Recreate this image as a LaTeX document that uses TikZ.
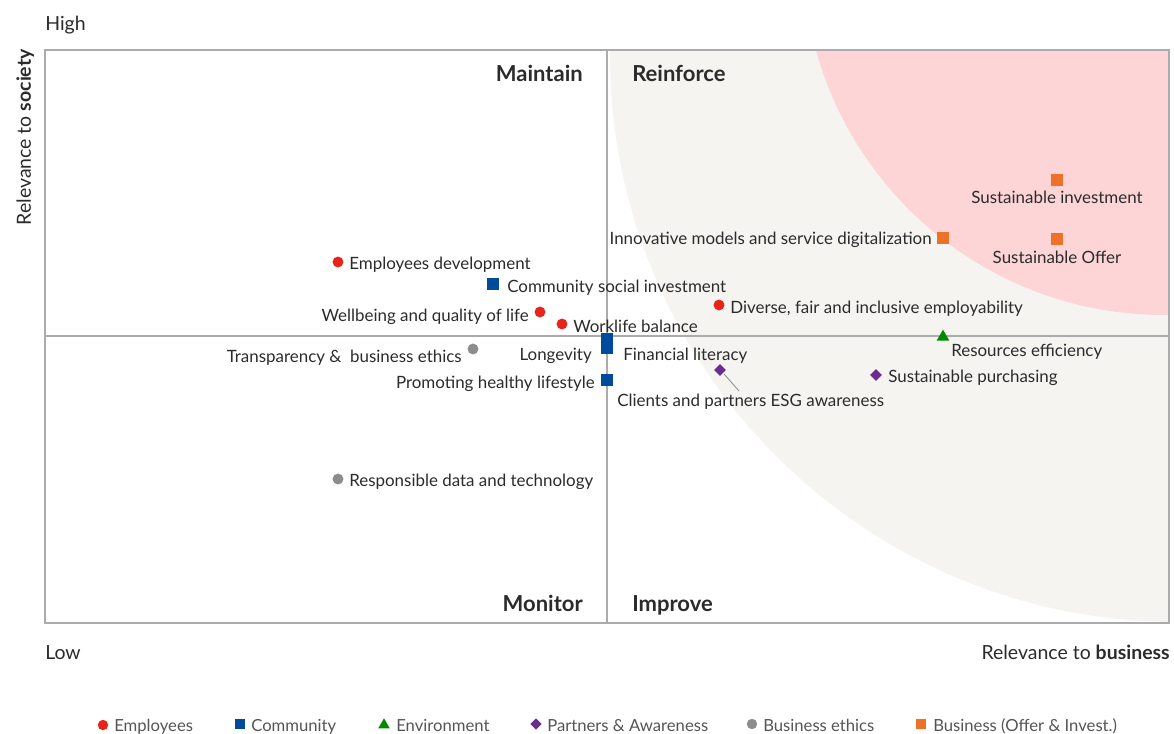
\documentclass[tikz,border=0pt]{standalone}
\usepackage{fontspec}
\setmainfont{Lato}
\usetikzlibrary{shapes.geometric}
\definecolor{cred}{HTML}{E8231A}
\definecolor{cblue}{HTML}{004B9B}
\definecolor{cgreen}{HTML}{008A00}
\definecolor{cpurple}{HTML}{6A2C91}
\definecolor{cgrey}{HTML}{8C8C8C}
\definecolor{corange}{HTML}{EE712A}
\definecolor{ctext}{HTML}{2B2B2B}
\definecolor{clegend}{HTML}{555555}
\definecolor{cframe}{HTML}{ABABAB}
\definecolor{cfill}{HTML}{F5F4F1}
\definecolor{cpink}{HTML}{FDD5D7}
\tikzset{
  lbl/.style={inner sep=0pt, text=ctext, font=\fontsize{12.7}{15}\selectfont},
  axl/.style={inner sep=0pt, text=ctext, font=\fontsize{14.6}{17}\selectfont},
  quad/.style={inner sep=0pt, text=ctext, font=\fontsize{16.5}{19}\selectfont\bfseries},
  leg/.style={inner sep=0pt, text=clegend, font=\fontsize{12.5}{15}\selectfont},
  dot/.style={circle, inner sep=0pt, minimum size=8.2pt, fill=#1, draw=none},
  sq/.style={rectangle, inner sep=0pt, minimum size=9pt, fill=#1, draw=none},
  dia/.style={diamond, inner sep=0pt, minimum size=9pt, fill=#1, draw=none},
  tri/.style={regular polygon, regular polygon sides=3, inner sep=0pt, minimum size=11pt, fill=#1, draw=none},
  gridline/.style={draw=cframe, line width=0.8pt}
}
\begin{document}
\begin{tikzpicture}[x=0.75pt, y=-0.75pt]
\useasboundingbox (0,0) rectangle (1174,734);
% background regions
\begin{scope}
  \clip (45,50) rectangle (1169,623);
  \fill[cfill] (1177,55) circle[radius=425.25pt];
  \fill[cpink] (1164,-46) circle[radius=270.75pt];
\end{scope}
% frame and midlines
\draw[gridline] (45,50) rectangle (1169,623);
\draw[gridline] (607,50) -- (607,623);
\draw[gridline] (45,336) -- (1169,336);
% axis labels
\node[axl, anchor=base west] (high) at (45,31) {High};
\node[axl, anchor=base west] (low) at (45,659) {Low};
\node[axl, anchor=base east] (xlab) at (1170,659) {Relevance to \textbf{business}};
\node[axl, anchor=base east, rotate=90] (ylab) at (31,49) {Relevance to \textbf{society}};
% quadrant labels
\node[quad, anchor=base east] (qmaintain) at (583,82) {Maintain};
\node[quad, anchor=base west] (qreinforce) at (632,82) {Reinforce};
\node[quad, anchor=base east] (qmonitor) at (583,611) {Monitor};
\node[quad, anchor=base west] (qimprove) at (632,611) {Improve};
% markers
\node[dot=cred] (m1) at (338,262) {};
\node[sq=cblue] (m2) at (493,284) {};
\node[dot=cred] (m3) at (540,312) {};
\node[dot=cred] (m4) at (562,324) {};
\node[dot=cred] (m5) at (719,305) {};
\node[sq=corange] (m6) at (943,238) {};
\node[sq=corange] (m7) at (1057,180) {};
\node[sq=corange] (m8) at (1057,239) {};
\node[tri=cgreen] (m9) at (943,337) {};
\node[dia=cpurple] (m10) at (876,375) {};
\node[dia=cpurple] (m11) at (720,370) {};
\node[sq=cblue] (m12) at (607,339) {};
\node[sq=cblue] (m13) at (607,348) {};
\node[sq=cblue] (m14) at (607,380) {};
\node[dot=cgrey] (m15) at (473,349) {};
\node[dot=cgrey] (m16) at (338,479) {};
% labels
\node[lbl, anchor=base west] (t1) at (349,270) {Employees development};
\node[lbl, anchor=base west] (t2) at (507,292) {Community social investment};
\node[lbl, anchor=base east] (t3) at (529,321) {Wellbeing and quality of life};
\node[lbl, anchor=base west] (t4) at (573,332) {Worklife balance};
\node[lbl, anchor=base west] (t5) at (730,313) {Diverse, fair and inclusive employability};
\node[lbl, anchor=base east] (t6) at (932,245) {Innovative models and service digitalization};
\node[lbl, anchor=base] (t7) at (1057,204) {Sustainable investment};
\node[lbl, anchor=base] (t8) at (1057,264) {Sustainable Offer};
\node[lbl, anchor=base west] (t9) at (951,356) {Resources efficiency};
\node[lbl, anchor=base west] (t10) at (888,382) {Sustainable purchasing};
\node[lbl, anchor=base west] (t11) at (617,406) {Clients and partners ESG awareness};
\node[lbl, anchor=base west] (t12) at (623,360) {Financial literacy};
\node[lbl, anchor=base east] (t13) at (592,360) {Longevity};
\node[lbl, anchor=base east] (t14) at (595,388) {Promoting healthy lifestyle};
\node[lbl, anchor=base east] (t15) at (462,362) {Transparency \& \ business ethics};
\node[lbl, anchor=base west] (t16) at (349,486) {Responsible data and technology};
% leader line
\coordinate (clend) at (739,391);
\draw[cgrey, line width=0.6pt] (m11.south east) ++(1,1) -- (clend);
% legend
\node[dot=cred, minimum size=7.8pt] (l1) at (103,725) {};
\node[leg, anchor=base west] (lt1) at (114,731) {Employees};
\node[sq=cblue, minimum size=8.2pt] (l2) at (240,724) {};
\node[leg, anchor=base west] (lt2) at (251,731) {Community};
\node[tri=cgreen, minimum size=10pt] (l3) at (384,725) {};
\node[leg, anchor=base west] (lt3) at (396,731) {Environment};
\node[dia=cpurple, minimum size=8.5pt] (l4) at (536,724) {};
\node[leg, anchor=base west] (lt4) at (547,731) {Partners \& Awareness};
\node[dot=cgrey, minimum size=7.8pt] (l5) at (752,724) {};
\node[leg, anchor=base west] (lt5) at (763,731) {Business ethics};
\node[sq=corange, minimum size=8.2pt] (l6) at (921,724) {};
\node[leg, anchor=base west] (lt6) at (933,731) {Business (Offer \& Invest.)};
\end{tikzpicture}
\end{document}
